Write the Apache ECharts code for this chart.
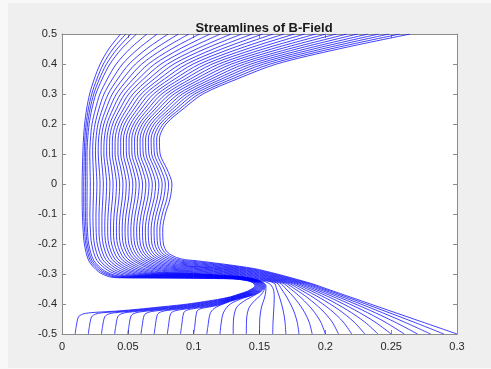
<!DOCTYPE html>
<html>
<head>
<meta charset="utf-8">
<script src="https://cdn.jsdelivr.net/npm/echarts@6/dist/echarts.min.js"></script>
<style>
  html, body { margin: 0; padding: 0; background: #f8f8f8; }
  #frame { position: absolute; left: 8px; top: 3px; width: 483px; height: 365px; background: #efefef; }
  #chart { position: absolute; left: 0; top: 0; width: 491px; height: 369px; }
</style>
</head>
<body>
<div id="frame"></div>
<div id="chart"></div>
<script>
// Streamlines of the B-field, 30 lines seeded along y = -0.5 at x = 0.01 ... 0.30.

// Heights at which the upper (C-shaped) part of every streamline is sampled
const levelY = [-0.2, -0.15, -0.1, -0.05, 0, 0.05, 0.1, 0.15, 0.2, 0.25, 0.3, 0.35, 0.4, 0.45, 0.5];

// x of each streamline (outermost first) where it crosses each height in levelY
const crossX = [
  [0.017,0.0181,0.0192,0.0203,0.0225,0.0246,0.0268,0.029,0.0312,0.0334,0.0355,0.0377,0.0399,0.0421,0.0443,0.0465,0.0486,0.0508,0.053,0.0552,0.0574,0.0595,0.0617,0.0639,0.0661,0.0683,0.0705,0.0726,0.0748,0.077],
  [0.016,0.0171,0.0182,0.0193,0.0215,0.0237,0.0259,0.0281,0.0303,0.0325,0.0347,0.0369,0.0391,0.0413,0.0435,0.0457,0.0479,0.0501,0.0523,0.0545,0.0567,0.0589,0.0611,0.0633,0.0655,0.0677,0.0699,0.0721,0.0743,0.0765],
  [0.0155,0.0166,0.0178,0.019,0.0212,0.0235,0.0258,0.0281,0.0304,0.0327,0.035,0.0372,0.0396,0.0418,0.0442,0.0464,0.0487,0.051,0.0533,0.0556,0.0579,0.0602,0.0624,0.0648,0.067,0.0694,0.0716,0.0739,0.0762,0.0785],
  [0.0153,0.0165,0.0177,0.019,0.0214,0.0238,0.0262,0.0286,0.031,0.0335,0.0359,0.0383,0.0408,0.0432,0.0457,0.0481,0.0505,0.0529,0.0553,0.0577,0.0602,0.0626,0.065,0.0675,0.0699,0.0723,0.0747,0.0771,0.0796,0.082],
  [0.0153,0.0165,0.0178,0.0191,0.0215,0.024,0.0265,0.0289,0.0314,0.0339,0.0364,0.0388,0.0414,0.0438,0.0463,0.0488,0.0512,0.0538,0.0562,0.0587,0.0612,0.0637,0.0661,0.0686,0.0711,0.0736,0.0761,0.0785,0.081,0.0835],
  [0.0155,0.0167,0.0178,0.019,0.0213,0.0237,0.026,0.0283,0.0307,0.033,0.0353,0.0377,0.04,0.0423,0.0447,0.047,0.0493,0.0517,0.054,0.0563,0.0587,0.061,0.0633,0.0657,0.068,0.0704,0.0727,0.075,0.0774,0.0797],
  [0.0158,0.0169,0.0179,0.019,0.0211,0.0233,0.0254,0.0275,0.0297,0.0318,0.0339,0.0361,0.0382,0.0403,0.0425,0.0446,0.0467,0.0489,0.051,0.0531,0.0553,0.0574,0.0595,0.0617,0.0638,0.066,0.0681,0.0702,0.0724,0.0745],
  [0.0163,0.0173,0.0184,0.0195,0.0216,0.0236,0.0258,0.0278,0.0299,0.0321,0.0341,0.0362,0.0383,0.0404,0.0426,0.0446,0.0467,0.0488,0.0509,0.053,0.0551,0.0572,0.0593,0.0614,0.0635,0.0656,0.0677,0.0698,0.0719,0.074],
  [0.0172,0.0183,0.0194,0.0206,0.0228,0.0251,0.0273,0.0296,0.0318,0.0341,0.0363,0.0385,0.0408,0.043,0.0453,0.0475,0.0498,0.0521,0.0543,0.0565,0.0588,0.061,0.0632,0.0655,0.0678,0.07,0.0723,0.0745,0.0768,0.079],
  [0.0187,0.02,0.0213,0.0227,0.0254,0.028,0.0307,0.0334,0.036,0.0387,0.0414,0.044,0.0467,0.0493,0.0521,0.0547,0.0573,0.06,0.0627,0.0653,0.068,0.0707,0.0733,0.076,0.0787,0.0814,0.084,0.0867,0.0894,0.092],
  [0.021,0.0226,0.0241,0.0257,0.0288,0.0319,0.0351,0.0382,0.0413,0.0445,0.0476,0.0507,0.0539,0.057,0.0601,0.0632,0.0663,0.0695,0.0726,0.0757,0.0789,0.082,0.0851,0.0883,0.0914,0.0945,0.0976,0.1007,0.1039,0.107],
  [0.0245,0.0265,0.0284,0.0305,0.0344,0.0383,0.0423,0.0462,0.0501,0.0541,0.058,0.0619,0.066,0.0699,0.0739,0.0778,0.0817,0.0857,0.0896,0.0935,0.0975,0.1014,0.1053,0.1094,0.1133,0.1173,0.1212,0.1251,0.1291,0.133],
  [0.029,0.0314,0.0338,0.0364,0.0412,0.046,0.051,0.0558,0.0606,0.0656,0.0704,0.0752,0.0802,0.085,0.09,0.0948,0.0996,0.1046,0.1094,0.1142,0.1192,0.124,0.1288,0.1338,0.1386,0.1436,0.1484,0.1532,0.1582,0.163],
  [0.0355,0.0386,0.0418,0.0451,0.0514,0.0577,0.0641,0.0704,0.0767,0.0831,0.0894,0.0957,0.1022,0.1084,0.1149,0.1212,0.1275,0.1339,0.1402,0.1465,0.1529,0.1592,0.1655,0.172,0.1782,0.1847,0.191,0.1973,0.2037,0.21],
  [0.0445,0.0485,0.0524,0.0566,0.0645,0.0724,0.0806,0.0885,0.0964,0.1046,0.1125,0.1204,0.1285,0.1365,0.1446,0.1525,0.1604,0.1686,0.1765,0.1844,0.1926,0.2005,0.2084,0.2165,0.2245,0.2326,0.2405,0.2484,0.2566,0.2645]
];

// Lower part of each streamline: from its seed on y = -0.5 round the loop / along the
// diagonal and into the bend, up to just below y = -0.2
const lowerPaths = [
  [[0.01,-0.5],[0.0108,-0.475],[0.0125,-0.443],[0.0155,-0.434],[0.02,-0.4298],[0.03,-0.4265],[0.04,-0.424],[0.054,-0.419],[0.07,-0.412],[0.092,-0.402],[0.105,-0.394],[0.118,-0.385],[0.128,-0.376],[0.135,-0.366],[0.1405,-0.358],[0.145,-0.347],[0.1465,-0.339],[0.1445,-0.328],[0.139,-0.321],[0.13,-0.3165],[0.1,-0.3145],[0.07,-0.3135],[0.042,-0.3125],[0.0355,-0.3087],[0.0277,-0.2922],[0.0204,-0.2563]],
  [[0.02,-0.5],[0.0208,-0.475],[0.0225,-0.4427],[0.0255,-0.4337],[0.03,-0.4295],[0.04,-0.4262],[0.054,-0.4212],[0.07,-0.4142],[0.092,-0.4042],[0.105,-0.3962],[0.118,-0.3872],[0.128,-0.3775],[0.1353,-0.3672],[0.141,-0.359],[0.1456,-0.3476],[0.1471,-0.339],[0.145,-0.3278],[0.1393,-0.3205],[0.13,-0.3158],[0.1,-0.3133],[0.07,-0.3123],[0.0441,-0.3113],[0.0374,-0.3075],[0.0292,-0.2912],[0.0216,-0.2557]],
  [[0.03,-0.5],[0.0308,-0.475],[0.0325,-0.4424],[0.0355,-0.4334],[0.04,-0.4292],[0.054,-0.4234],[0.07,-0.4164],[0.092,-0.4064],[0.105,-0.3984],[0.118,-0.3894],[0.128,-0.379],[0.1356,-0.3684],[0.1415,-0.36],[0.1462,-0.3482],[0.1477,-0.339],[0.1455,-0.3276],[0.1396,-0.32],[0.13,-0.3151],[0.1,-0.3121],[0.07,-0.3111],[0.0462,-0.3101],[0.0392,-0.3063],[0.0307,-0.2902],[0.0228,-0.2551]],
  [[0.04,-0.5],[0.0408,-0.475],[0.0425,-0.441],[0.0455,-0.432],[0.05,-0.4278],[0.07,-0.4186],[0.092,-0.4086],[0.105,-0.4006],[0.118,-0.3916],[0.128,-0.3805],[0.1359,-0.3696],[0.142,-0.361],[0.1468,-0.3488],[0.1483,-0.339],[0.146,-0.3274],[0.1399,-0.3195],[0.13,-0.3144],[0.1,-0.3109],[0.07,-0.3099],[0.0483,-0.3089],[0.0411,-0.3052],[0.0322,-0.2892],[0.0241,-0.2545]],
  [[0.05,-0.5],[0.0508,-0.475],[0.0525,-0.4392],[0.0555,-0.4302],[0.06,-0.426],[0.07,-0.4208],[0.092,-0.4108],[0.105,-0.4028],[0.118,-0.3938],[0.128,-0.382],[0.1362,-0.3708],[0.1425,-0.362],[0.1474,-0.3494],[0.1489,-0.339],[0.1465,-0.3272],[0.1402,-0.319],[0.13,-0.3137],[0.1,-0.3097],[0.072,-0.3087],[0.0515,-0.3077],[0.044,-0.304],[0.0349,-0.2882],[0.0264,-0.2539]],
  [[0.06,-0.5],[0.0608,-0.475],[0.0625,-0.437],[0.0655,-0.428],[0.07,-0.4238],[0.092,-0.413],[0.105,-0.405],[0.118,-0.396],[0.128,-0.3835],[0.1365,-0.372],[0.143,-0.363],[0.148,-0.35],[0.1495,-0.339],[0.147,-0.327],[0.1405,-0.3185],[0.13,-0.313],[0.1,-0.3085],[0.075,-0.3075],[0.0546,-0.3065],[0.0468,-0.3029],[0.0374,-0.2872],[0.0286,-0.2533]],
  [[0.07,-0.5],[0.0708,-0.475],[0.0725,-0.4347],[0.0755,-0.4257],[0.08,-0.4215],[0.092,-0.4152],[0.105,-0.4072],[0.118,-0.3982],[0.128,-0.385],[0.1368,-0.3732],[0.1435,-0.364],[0.1486,-0.3506],[0.1501,-0.339],[0.1475,-0.3268],[0.1408,-0.318],[0.13,-0.3123],[0.1,-0.3073],[0.0578,-0.3053],[0.0498,-0.3017],[0.04,-0.2863],[0.031,-0.2527]],
  [[0.08,-0.5],[0.0808,-0.475],[0.0825,-0.4323],[0.0855,-0.4233],[0.09,-0.4191],[0.105,-0.4094],[0.118,-0.4004],[0.128,-0.3865],[0.1371,-0.3744],[0.144,-0.365],[0.1492,-0.3512],[0.1507,-0.339],[0.148,-0.3266],[0.1411,-0.3175],[0.13,-0.3116],[0.1,-0.3061],[0.061,-0.3041],[0.0527,-0.3006],[0.0426,-0.2853],[0.0333,-0.2521]],
  [[0.09,-0.5],[0.0908,-0.475],[0.0925,-0.4287],[0.0955,-0.4197],[0.1,-0.4155],[0.118,-0.4026],[0.128,-0.388],[0.1374,-0.3756],[0.1445,-0.366],[0.1498,-0.3518],[0.1513,-0.339],[0.1485,-0.3264],[0.1414,-0.317],[0.13,-0.3109],[0.1,-0.3049],[0.0642,-0.3029],[0.0557,-0.2994],[0.0453,-0.2843],[0.0356,-0.2515]],
  [[0.1,-0.5],[0.1008,-0.475],[0.1025,-0.4244],[0.1055,-0.4154],[0.11,-0.4112],[0.118,-0.4048],[0.128,-0.3895],[0.1377,-0.3768],[0.145,-0.367],[0.1504,-0.3524],[0.1519,-0.339],[0.149,-0.3262],[0.1417,-0.3165],[0.13,-0.3102],[0.1,-0.3037],[0.0674,-0.3017],[0.0586,-0.2982],[0.0479,-0.2833],[0.038,-0.2509]],
  [[0.11,-0.5],[0.1108,-0.475],[0.1125,-0.432],[0.1155,-0.415],[0.12,-0.4045],[0.128,-0.391],[0.138,-0.378],[0.1455,-0.368],[0.151,-0.353],[0.1525,-0.339],[0.1495,-0.326],[0.142,-0.316],[0.13,-0.3095],[0.1,-0.3025],[0.0705,-0.3005],[0.0614,-0.2971],[0.0504,-0.2823],[0.0402,-0.2503]],
  [[0.12,-0.5],[0.1207,-0.47],[0.1225,-0.43],[0.1275,-0.401],[0.1383,-0.3792],[0.146,-0.369],[0.1516,-0.3536],[0.1531,-0.339],[0.15,-0.3258],[0.1423,-0.3155],[0.13,-0.3088],[0.1,-0.3013],[0.0737,-0.2993],[0.0644,-0.2959],[0.0531,-0.2813],[0.0425,-0.2497]],
  [[0.13,-0.5],[0.1303,-0.45],[0.1325,-0.412],[0.138,-0.391],[0.1465,-0.37],[0.1522,-0.3542],[0.1537,-0.339],[0.1505,-0.3256],[0.1426,-0.315],[0.13,-0.3081],[0.1,-0.3001],[0.0769,-0.2981],[0.0673,-0.2948],[0.0557,-0.2804],[0.0449,-0.2491]],
  [[0.14,-0.5],[0.1402,-0.45],[0.142,-0.413],[0.1465,-0.388],[0.151,-0.37],[0.1533,-0.3552],[0.1543,-0.339],[0.151,-0.3254],[0.1429,-0.3145],[0.13,-0.3074],[0.1,-0.2989],[0.0801,-0.2969],[0.0703,-0.2936],[0.0583,-0.2794],[0.0472,-0.2485]],
  [[0.15,-0.5],[0.1502,-0.45],[0.1515,-0.41],[0.1538,-0.38],[0.1548,-0.356],[0.1549,-0.339],[0.1515,-0.3252],[0.1432,-0.314],[0.13,-0.3067],[0.1,-0.2977],[0.0833,-0.2957],[0.0732,-0.2924],[0.0609,-0.2784],[0.0495,-0.2479]],
  [[0.16,-0.5],[0.1603,-0.46],[0.1608,-0.42],[0.1612,-0.38],[0.1608,-0.355],[0.1585,-0.336],[0.1545,-0.326],[0.15,-0.322],[0.13,-0.305],[0.1,-0.295],[0.0865,-0.294],[0.0762,-0.2908],[0.0636,-0.277],[0.0519,-0.247]],
  [[0.17,-0.5],[0.1694,-0.46],[0.1679,-0.42],[0.1654,-0.38],[0.163,-0.35],[0.1611,-0.33],[0.15,-0.3194],[0.13,-0.3026],[0.1,-0.2922],[0.0874,-0.2912],[0.0774,-0.2881],[0.0651,-0.2747],[0.0538,-0.2456]],
  [[0.18,-0.5],[0.1786,-0.46],[0.1757,-0.42],[0.1711,-0.38],[0.1667,-0.35],[0.1632,-0.33],[0.15,-0.3168],[0.13,-0.3002],[0.1,-0.2894],[0.0884,-0.2884],[0.0787,-0.2854],[0.0668,-0.2724],[0.0558,-0.2442]],
  [[0.19,-0.5],[0.1877,-0.46],[0.1832,-0.42],[0.1766,-0.38],[0.1702,-0.35],[0.1653,-0.33],[0.15,-0.3142],[0.13,-0.2978],[0.1,-0.2866],[0.0894,-0.2856],[0.08,-0.2827],[0.0685,-0.2701],[0.0579,-0.2428]],
  [[0.2,-0.5],[0.1965,-0.46],[0.1904,-0.42],[0.1818,-0.38],[0.1737,-0.35],[0.1674,-0.33],[0.15,-0.3116],[0.13,-0.2954],[0.1,-0.2838],[0.0904,-0.2828],[0.0813,-0.28],[0.0702,-0.2678],[0.0599,-0.2414]],
  [[0.21,-0.5],[0.2052,-0.46],[0.1974,-0.42],[0.1868,-0.38],[0.1769,-0.35],[0.1695,-0.33],[0.15,-0.309],[0.13,-0.293],[0.1,-0.281],[0.0914,-0.28],[0.0826,-0.2773],[0.0719,-0.2655],[0.062,-0.24]],
  [[0.22,-0.5],[0.2136,-0.46],[0.2041,-0.42],[0.1915,-0.38],[0.1801,-0.35],[0.1715,-0.33],[0.15,-0.3064],[0.13,-0.2906],[0.1,-0.2782],[0.0923,-0.2772],[0.0838,-0.2746],[0.0735,-0.2632],[0.0639,-0.2386]],
  [[0.23,-0.5],[0.2218,-0.46],[0.2105,-0.42],[0.1961,-0.38],[0.1832,-0.35],[0.1736,-0.33],[0.15,-0.3038],[0.13,-0.2882],[0.1,-0.2754],[0.0933,-0.2744],[0.0851,-0.2719],[0.0752,-0.2609],[0.0659,-0.2372]],
  [[0.24,-0.5],[0.2299,-0.46],[0.2166,-0.42],[0.2003,-0.38],[0.1862,-0.35],[0.1757,-0.33],[0.15,-0.3012],[0.13,-0.2858],[0.0943,-0.2716],[0.0864,-0.2692],[0.0769,-0.2587],[0.068,-0.2358]],
  [[0.25,-0.5],[0.2377,-0.46],[0.2224,-0.42],[0.2044,-0.38],[0.189,-0.35],[0.1778,-0.33],[0.15,-0.2986],[0.13,-0.2834],[0.0953,-0.2688],[0.0877,-0.2665],[0.0786,-0.2564],[0.07,-0.2344]],
  [[0.26,-0.5],[0.2453,-0.46],[0.228,-0.42],[0.2082,-0.38],[0.1917,-0.35],[0.1799,-0.33],[0.15,-0.296],[0.13,-0.281],[0.0963,-0.266],[0.0891,-0.2637],[0.0802,-0.2541],[0.0721,-0.233]],
  [[0.27,-0.5],[0.2527,-0.46],[0.2333,-0.42],[0.2118,-0.38],[0.1944,-0.35],[0.182,-0.33],[0.15,-0.2934],[0.13,-0.2786],[0.0973,-0.2632],[0.0904,-0.261],[0.0819,-0.2518],[0.0741,-0.2316]],
  [[0.28,-0.5],[0.2599,-0.46],[0.2383,-0.42],[0.2151,-0.38],[0.1969,-0.35],[0.1841,-0.33],[0.15,-0.2908],[0.13,-0.2762],[0.0982,-0.2604],[0.0916,-0.2583],[0.0835,-0.2495],[0.076,-0.2302]],
  [[0.29,-0.5],[0.267,-0.46],[0.243,-0.42],[0.2183,-0.38],[0.1992,-0.35],[0.1862,-0.33],[0.15,-0.2882],[0.13,-0.2738],[0.0992,-0.2576],[0.0929,-0.2556],[0.0852,-0.2472],[0.0781,-0.2288]],
  [[0.3,-0.5],[0.2737,-0.46],[0.2473,-0.42],[0.2211,-0.38],[0.2014,-0.35],[0.1882,-0.33],[0.15,-0.2856],[0.13,-0.2714],[0.1002,-0.2548],[0.0942,-0.2529],[0.0869,-0.2449],[0.0801,-0.2274]]
];

const xTicks = { min: 0, max: 0.3, interval: 0.05 };
const yTicks = { min: -0.5, max: 0.5, interval: 0.1 };

const axisGray = '#8c8c8c';
const labelColor = '#262626';

// assemble each streamline: lower path followed by its crossings of levelY
const series = lowerPaths.map(function (path, k) {
  const upper = levelY.map(function (y, l) { return [crossX[l][k], y]; });
  return {
    type: 'line',
    xAxisIndex: 0,
    yAxisIndex: 0,
    data: path.concat(upper),
    showSymbol: false,
    smooth: 0.3,
    silent: true,
    clip: true,
    lineStyle: { color: '#0000ff', width: 0.75 }
  };
});

function xAxisDef(pos, labels) {
  return {
    type: 'value', position: pos, min: xTicks.min, max: xTicks.max, interval: xTicks.interval,
    axisLine: { show: true, onZero: false, lineStyle: { color: axisGray, width: 1 } },
    axisTick: { show: true, inside: true, length: 4, lineStyle: { color: axisGray } },
    axisLabel: { show: labels, color: labelColor, fontSize: 11, fontFamily: 'Liberation Sans, Arial, sans-serif', margin: 7 },
    splitLine: { show: false }
  };
}
function yAxisDef(pos, labels) {
  return {
    type: 'value', position: pos, min: yTicks.min, max: yTicks.max, interval: yTicks.interval,
    axisLine: { show: true, onZero: false, lineStyle: { color: axisGray, width: 1 } },
    axisTick: { show: true, inside: true, length: 4, lineStyle: { color: axisGray } },
    axisLabel: { show: labels, color: labelColor, fontSize: 11, fontFamily: 'Liberation Sans, Arial, sans-serif', margin: 5 },
    splitLine: { show: false }
  };
}

const chart = echarts.init(document.getElementById('chart'), null, { renderer: 'canvas' });
chart.setOption({
  animation: false,
  backgroundColor: 'transparent',
  title: {
    text: 'Streamlines of B-Field',
    left: 259, top: 17, textAlign: 'center',
    textStyle: { fontSize: 13, fontWeight: 'bold', color: '#1a1a1a', fontFamily: 'Liberation Sans, Arial, sans-serif' }
  },
  grid: { left: 62, top: 34, width: 395, height: 300, show: true, backgroundColor: '#ffffff', borderWidth: 0 },
  xAxis: [xAxisDef('bottom', true), xAxisDef('top', false)],
  yAxis: [yAxisDef('left', true), yAxisDef('right', false)],
  series: series
});
</script>
</body>
</html>
